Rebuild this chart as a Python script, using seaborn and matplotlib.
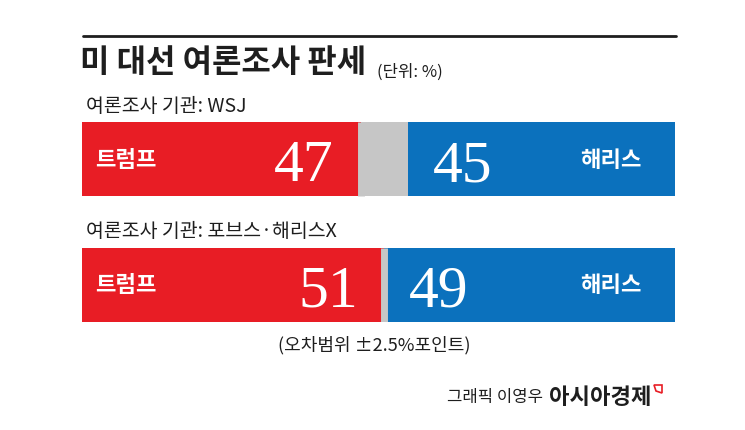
import matplotlib
matplotlib.use('Agg')
import pandas as pd
import matplotlib.pyplot as plt
import seaborn as sns
from matplotlib.lines import Line2D
from matplotlib.patches import Polygon

# 데이터
polls = ['WSJ', '포브스·해리스X']
trump = [47, 51]
harris = [45, 49]
candidates = ['트럼프', '해리스']

sns.set_style('white')
plt.rcParams['font.family'] = ['Noto Sans CJK KR', 'DejaVu Sans']

W, H = 745, 431
RED = '#E81D25'
BLUE = '#0B71BD'
GRAY = '#C6C6C6'
INK = '#1E1E1E'


def fx(x):
    return x / W


def fy(y):
    return 1 - y / H


fig = plt.figure(figsize=(W / 100, H / 100), dpi=100)

df = pd.DataFrame({'poll': polls, 'trump': trump, 'harris': harris})
df['full'] = 100
df['rest'] = 100 - df['harris']

# 막대: 파랑(전체) 위에 회색(나머지), 그 위에 빨강
bh = 0.593
ax = fig.add_axes([fx(82), fy(323), 593 / W, 200 / H])
for col, c in [('full', BLUE), ('rest', GRAY), ('trump', RED)]:
    sns.barplot(data=df, x=col, y='poll', orient='h', color=c, width=bh,
                saturation=1, errorbar=None, linewidth=0, ax=ax)
# 두 후보 사이 구분선
ax.vlines(df['trump'], df.index - bh / 2, df.index + bh / 2, color=GRAY, lw=5)
ax.set_xlim(0, 100)
ax.set_ylim(1 + bh / 2, -bh / 2)
ax.axis('off')

for i in range(len(polls)):
    ax.text(2.2, i, candidates[0], color='white', fontsize=16,
            fontweight='bold', ha='left', va='center')
    ax.text(df['trump'][i] - 4.5, i + 0.167, str(df['trump'][i]), color='white',
            fontsize=43, family='Liberation Serif', ha='right', va='baseline')
    ax.text(df['rest'][i] + 4.2, i + 0.167, str(df['harris'][i]), color='white',
            fontsize=43, family='Liberation Serif', ha='left', va='baseline')
    ax.text(94.4, i, candidates[1], color='white', fontsize=16,
            fontweight='bold', ha='right', va='center')

# 상단 선과 제목
fig.add_artist(Line2D([fx(83), fx(676)], [fy(37), fy(37)], color=INK, lw=2))
fig.text(fx(80), fy(63), '미 대선 여론조사 판세', fontsize=23, fontweight='black',
         color=INK, ha='left', va='center')
fig.text(fx(377), fy(72), '(단위: %)', fontsize=12, color=INK, ha='left', va='center')

# 조사 기관
fig.text(fx(86), fy(106), '여론조사 기관: ' + polls[0], fontsize=14, color=INK,
         ha='left', va='center')
fig.text(fx(86), fy(232), '여론조사 기관: ' + polls[1], fontsize=14, color=INK,
         ha='left', va='center')

# 오차범위, 출처
fig.text(fx(374), fy(345), '(오차범위 ±2.5%포인트)', fontsize=13, color=INK,
         ha='center', va='center')
fig.text(fx(543), fy(398), '그래픽 이영우', fontsize=12, color=INK,
         ha='right', va='center')
fig.text(fx(549), fy(398), '아시아경제', fontsize=16, fontweight='bold', color=INK,
         ha='left', va='center')
fig.add_artist(Polygon([[fx(654), fy(386)], [fx(662), fy(386)], [fx(662), fy(394)],
                        [fx(656), fy(392)]], closed=True, fill=False,
                       edgecolor=RED, lw=1.2))

fig.savefig('out.png', dpi=100)
